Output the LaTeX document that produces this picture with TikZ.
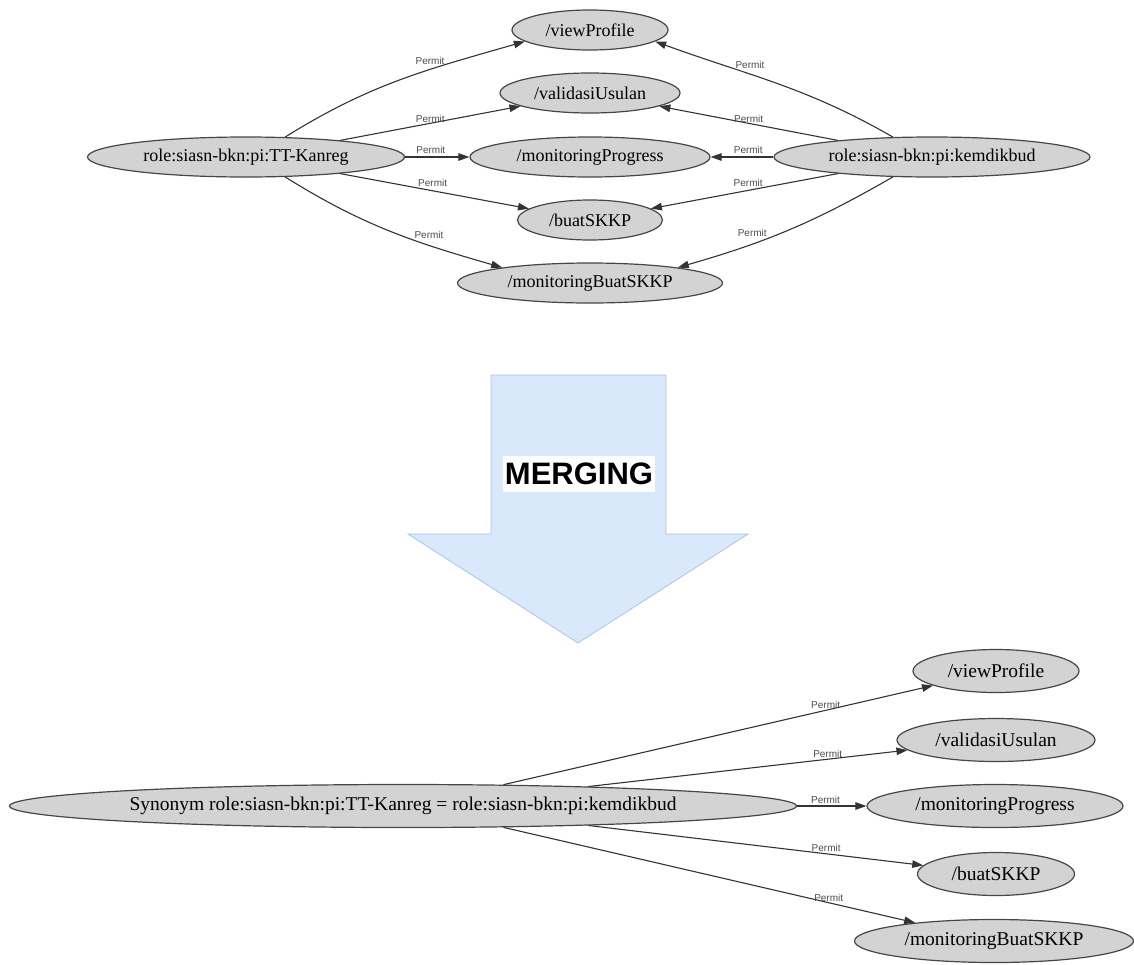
\documentclass[tikz,border=0pt]{standalone}
\usepackage{fontspec}
\setmainfont{Liberation Serif}
\setsansfont{Liberation Sans}
\usetikzlibrary{arrows.meta,shapes.geometric}

\definecolor{nodefill}{RGB}{211,211,211}
\definecolor{nodeline}{RGB}{70,70,70}
\definecolor{mergefill}{RGB}{218,232,252}
\definecolor{mergeline}{RGB}{169,196,235}

\begin{document}
\begin{tikzpicture}[x=1pt, y=1pt,
    res/.style={ellipse, draw=nodeline, fill=nodefill, line width=1.2pt, inner sep=0pt,
        minimum height=40pt, font=\fontsize{18}{20}\selectfont},
    resbig/.style={res, minimum height=43pt, font=\fontsize{19.5}{22}\selectfont},
    permit/.style={-{Triangle[length=11pt,width=7.5pt]}, draw=black!80, line width=1.1pt},
    lbl/.style={font=\sffamily\fontsize{10}{10}\selectfont, text=black!70, inner sep=0.5pt}]

    % frame
    \useasboundingbox (0,0) rectangle (1134,-964);

    % resources (before)
    \node[res, minimum width=156pt] (vp1) at (590,-30) {/viewProfile};
    \node[res, minimum width=180pt] (vu1) at (590,-93) {/validasiUsulan};
    \node[res, minimum width=240pt] (mp1) at (590,-157) {/monitoringProgress};
    \node[res, minimum width=145pt] (bs1) at (590,-220) {/buatSKKP};
    \node[res, minimum width=265pt] (mb1) at (590,-283) {/monitoringBuatSKKP};

    % roles
    \node[res, minimum width=317pt] (kanreg) at (246,-157) {role:siasn-bkn:pi:TT-Kanreg};
    \node[res, minimum width=316pt] (kemdik) at (932,-157) {role:siasn-bkn:pi:kemdikbud};

    % permits of TT-Kanreg
    \draw[permit] (kanreg.27) to[out=32, in=196] node[lbl, pos=0.63, above=4pt] {Permit} (vp1.190);
    \draw[permit] (kanreg.10) -- node[lbl, pos=0.5, above] {Permit} (vu1);
    \draw[permit] (kanreg) -- node[lbl, pos=0.4, above=2pt] {Permit} (mp1);
    \draw[permit] (kanreg.-10) -- node[lbl, pos=0.49, above=3pt] {Permit} (bs1);
    \draw[permit] (kanreg.-27) to[out=-32, in=164] node[lbl, pos=0.69, above=6pt] {Permit} (mb1.170);

    % permits of kemdikbud
    \draw[permit] (kemdik.153) to[out=150, in=-20] node[lbl, pos=0.62, above=4pt] {Permit} (vp1.-10);
    \draw[permit] (kemdik.170) -- node[lbl, pos=0.5, above] {Permit} (vu1);
    \draw[permit] (kemdik) -- node[lbl, pos=0.4, above=2pt] {Permit} (mp1);
    \draw[permit] (kemdik.190) -- node[lbl, pos=0.48, above=3pt] {Permit} (bs1);
    \draw[permit] (kemdik.207) to[out=-150, in=16] node[lbl, pos=0.68, above=6pt] {Permit} (mb1.10);

    % merge arrow
    \filldraw[fill=mergefill, draw=mergeline, line width=0.8pt]
        (491,-375) -- (666,-375) -- (666,-534) -- (748,-534) -- (578,-643)
        -- (408,-534) -- (491,-534) -- cycle;
    \node[fill=white, inner xsep=2pt, inner ysep=7pt,
        font=\sffamily\bfseries\fontsize{31}{31}\selectfont] (merge) at (579,-474) {MERGING};

    % merged role
    \node[resbig, minimum width=787pt] (syn) at (403,-806)
        {Synonym role:siasn-bkn:pi:TT-Kanreg = role:siasn-bkn:pi:kemdikbud};

    % resources (after)
    \node[resbig, minimum width=166pt] (vp2) at (996,-671) {/viewProfile};
    \node[resbig, minimum width=198pt] (vu2) at (996,-740) {/validasiUsulan};
    \node[resbig, minimum width=256pt] (mp2) at (995,-806) {/monitoringProgress};
    \node[resbig, minimum width=157pt] (bs2) at (996,-874) {/buatSKKP};
    \node[resbig, minimum width=279pt] (mb2) at (994,-941) {/monitoringBuatSKKP};

    % permits of synonym
    \draw[permit] (syn.12) -- node[lbl, pos=0.75, above=1pt] {Permit} (vp2);
    \draw[permit] (syn.6) -- node[lbl, pos=0.75, above=1pt] {Permit} (vu2);
    \draw[permit] (syn) -- node[lbl, pos=0.41, above=1pt] {Permit} (mp2);
    \draw[permit] (syn.-6) -- node[lbl, pos=0.71, above=1pt] {Permit} (bs2);
    \draw[permit] (syn.-12) -- node[lbl, pos=0.79, above] {Permit} (mb2);
\end{tikzpicture}
\end{document}
